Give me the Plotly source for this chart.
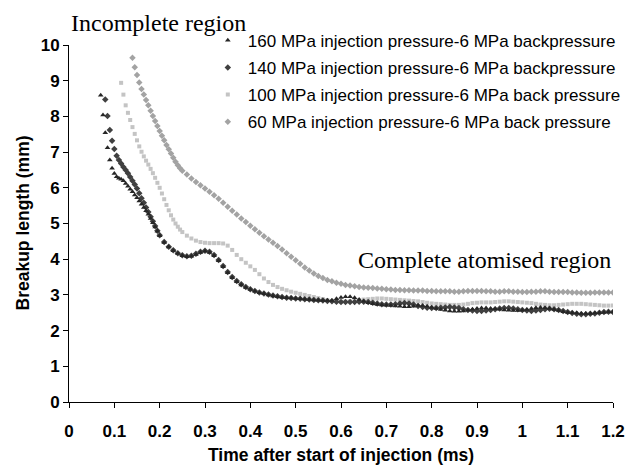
import numpy as np
import plotly.graph_objects as go

# ---- data (time in ms, breakup length in mm) ----
# early parts sampled every 0.005 ms, later parts every 0.01 ms
t160_early = [0.070, 0.075, 0.080, 0.085, 0.090, 0.095, 0.100, 0.105, 0.110, 0.115, 0.120, 0.125, 0.130,
              0.135, 0.140, 0.145, 0.150, 0.155, 0.160, 0.165, 0.170, 0.175, 0.180, 0.185, 0.190, 0.195, 0.200]
b160_early = [8.59, 8.04, 7.54, 7.12, 6.78, 6.55, 6.40, 6.31, 6.27, 6.24, 6.20, 6.12, 6.04,
              5.96, 5.89, 5.80, 5.72, 5.63, 5.54, 5.45, 5.36, 5.26, 5.14, 5.02, 4.90, 4.78, 4.66]
b160_late = [4.47, 4.34, 4.24, 4.16, 4.10, 4.07, 4.08, 4.13, 4.19, 4.22,   # 0.21-0.30
             4.19, 4.10, 3.96, 3.79, 3.62, 3.48, 3.37, 3.28, 3.21, 3.15,   # 0.31-0.40
             3.10, 3.06, 3.03, 3.00, 2.97, 2.95, 2.93, 2.92, 2.91, 2.90,   # 0.41-0.50
             2.89, 2.88, 2.87, 2.86, 2.85, 2.84, 2.84, 2.84, 2.89, 2.93,   # 0.51-0.60
             2.95, 2.95, 2.92, 2.87, 2.82, 2.78, 2.75, 2.73, 2.72, 2.71,   # 0.61-0.70
             2.70, 2.69, 2.68, 2.67, 2.67, 2.68, 2.70, 2.70, 2.68, 2.65,   # 0.71-0.80
             2.62, 2.59, 2.57, 2.55, 2.54, 2.54, 2.55, 2.57, 2.60, 2.62,   # 0.81-0.90
             2.63, 2.63, 2.62, 2.61, 2.60, 2.58, 2.57, 2.56, 2.56, 2.57,   # 0.91-1.00
             2.59, 2.62, 2.64, 2.65, 2.64, 2.62, 2.59, 2.56, 2.53, 2.51,   # 1.01-1.10
             2.50, 2.49, 2.48, 2.48, 2.48, 2.49, 2.50, 2.51, 2.52, 2.52]   # 1.11-1.20

t140_early = [0.080, 0.085, 0.090, 0.095, 0.100, 0.105, 0.110, 0.115, 0.120, 0.125, 0.130, 0.135,
              0.140, 0.145, 0.150, 0.155, 0.160, 0.165, 0.170, 0.175, 0.180, 0.185, 0.190, 0.195, 0.200]
b140_early = [8.47, 8.01, 7.62, 7.32, 7.09, 6.90, 6.78, 6.68, 6.58, 6.50, 6.41, 6.30,
              6.20, 6.09, 5.98, 5.85, 5.71, 5.58, 5.45, 5.32, 5.19, 5.06, 4.93, 4.80, 4.67]
b140_late = [4.48, 4.35, 4.25, 4.17, 4.11, 4.08, 4.10, 4.15, 4.21, 4.24,   # 0.21-0.30
             4.21, 4.12, 3.98, 3.81, 3.64, 3.50, 3.39, 3.30, 3.22, 3.16,   # 0.31-0.40
             3.11, 3.07, 3.04, 3.01, 2.98, 2.96, 2.94, 2.92, 2.91, 2.90,   # 0.41-0.50
             2.89, 2.88, 2.87, 2.86, 2.85, 2.84, 2.83, 2.82, 2.81, 2.80,   # 0.51-0.60
             2.80, 2.80, 2.80, 2.81, 2.81, 2.80, 2.78, 2.76, 2.74, 2.73,   # 0.61-0.70
             2.73, 2.74, 2.76, 2.77, 2.76, 2.73, 2.69, 2.66, 2.64, 2.63,   # 0.71-0.80
             2.63, 2.64, 2.65, 2.66, 2.65, 2.63, 2.60, 2.58, 2.56, 2.55,   # 0.81-0.90
             2.55, 2.56, 2.58, 2.60, 2.62, 2.63, 2.63, 2.62, 2.60, 2.58,   # 0.91-1.00
             2.56, 2.55, 2.56, 2.58, 2.60, 2.61, 2.60, 2.58, 2.55, 2.52,   # 1.01-1.10
             2.49, 2.47, 2.46, 2.46, 2.47, 2.48, 2.50, 2.52, 2.53, 2.52]   # 1.11-1.20

t100_early = [0.115, 0.120, 0.125, 0.130, 0.135, 0.140, 0.145, 0.150, 0.155, 0.160, 0.165, 0.170, 0.175, 0.180,
              0.185, 0.190, 0.195, 0.200, 0.205, 0.210, 0.215, 0.220, 0.225, 0.230, 0.235, 0.240, 0.245]
b100_early = [8.94, 8.61, 8.31, 8.10, 7.90, 7.70, 7.51, 7.33, 7.16, 7.01, 6.88, 6.76, 6.65, 6.53,
              6.41, 6.28, 6.14, 6.00, 5.84, 5.68, 5.52, 5.37, 5.23, 5.11, 5.00, 4.91, 4.83]
b100_late = [4.76, 4.66, 4.58, 4.52, 4.48, 4.46,                           # 0.25-0.30
             4.45, 4.45, 4.45, 4.44, 4.38, 4.26, 4.12, 4.00, 3.90, 3.80,   # 0.31-0.40
             3.70, 3.58, 3.46, 3.36, 3.28, 3.22, 3.17, 3.13, 3.09, 3.06,   # 0.41-0.50
             3.03, 3.00, 2.97, 2.94, 2.91, 2.88, 2.85, 2.83, 2.82, 2.81,   # 0.51-0.60
             2.81, 2.82, 2.83, 2.85, 2.87, 2.88, 2.89, 2.90, 2.90, 2.89,   # 0.61-0.70
             2.88, 2.87, 2.86, 2.85, 2.84, 2.83, 2.82, 2.80, 2.78, 2.76,   # 0.71-0.80
             2.75, 2.74, 2.73, 2.72, 2.72, 2.72, 2.73, 2.75, 2.77, 2.78,   # 0.81-0.90
             2.79, 2.79, 2.79, 2.80, 2.81, 2.82, 2.82, 2.81, 2.80, 2.79,   # 0.91-1.00
             2.78, 2.77, 2.75, 2.73, 2.72, 2.71, 2.71, 2.72, 2.73, 2.74,   # 1.01-1.10
             2.75, 2.75, 2.75, 2.74, 2.73, 2.72, 2.71, 2.70, 2.70, 2.70]   # 1.11-1.20

t60_early = [0.140, 0.145, 0.150, 0.155, 0.160, 0.165, 0.170, 0.175, 0.180, 0.185, 0.190,
             0.195, 0.200, 0.205, 0.210, 0.215, 0.220, 0.225, 0.230, 0.235, 0.240, 0.245]
b60_early = [9.64, 9.38, 9.16, 8.95, 8.77, 8.61, 8.46, 8.31, 8.16, 8.01, 7.87,
             7.73, 7.59, 7.46, 7.33, 7.20, 7.08, 6.96, 6.84, 6.73, 6.63, 6.55]
b60_late = [6.48, 6.37, 6.26, 6.16, 6.07, 5.98,                            # 0.25-0.30
            5.89, 5.79, 5.69, 5.58, 5.47, 5.36, 5.25, 5.14, 5.04, 4.94,    # 0.31-0.40
            4.84, 4.74, 4.64, 4.55, 4.46, 4.37, 4.27, 4.17, 4.07, 3.97,    # 0.41-0.50
            3.87, 3.77, 3.68, 3.60, 3.53, 3.47, 3.42, 3.38, 3.34, 3.31,    # 0.51-0.60
            3.28, 3.26, 3.24, 3.22, 3.21, 3.20, 3.19, 3.18, 3.17, 3.16,    # 0.61-0.70
            3.15, 3.14, 3.14, 3.13, 3.13, 3.12, 3.12, 3.12, 3.11, 3.11,    # 0.71-0.80
            3.10, 3.10, 3.10, 3.10, 3.09, 3.09, 3.10, 3.11, 3.11, 3.11,    # 0.81-0.90
            3.11, 3.10, 3.10, 3.09, 3.09, 3.10, 3.10, 3.09, 3.09, 3.08,    # 0.91-1.00
            3.08, 3.09, 3.09, 3.10, 3.10, 3.09, 3.08, 3.08, 3.08, 3.08,    # 1.01-1.10
            3.07, 3.07, 3.06, 3.06, 3.06, 3.07, 3.07, 3.07, 3.07, 3.07]    # 1.11-1.20

series_names = [
    "160 MPa injection pressure-6 MPa backpressure",
    "140 MPa injection pressure-6 MPa backpressure",
    "100 MPa injection pressure-6 MPa back pressure",
    "60 MPa injection pressure-6 MPa back pressure",
]
x_tick_vals = [0, 0.1, 0.2, 0.3, 0.4, 0.5, 0.6, 0.7, 0.8, 0.9, 1.0, 1.1, 1.2]
x_tick_text = ["0", "0.1", "0.2", "0.3", "0.4", "0.5", "0.6", "0.7", "0.8", "0.9", "1", "1.1", "1.2"]
y_tick_vals = [0, 1, 2, 3, 4, 5, 6, 7, 8, 9, 10]


def late_times(start, n):
    return [round(start + 0.01 * i, 2) for i in range(n)]


t160 = t160_early + late_times(0.21, len(b160_late))
b160 = b160_early + b160_late
t140 = t140_early + late_times(0.21, len(b140_late))
b140 = b140_early + b140_late
t100 = t100_early + late_times(0.25, len(b100_late))
b100 = b100_early + b100_late
t60 = t60_early + late_times(0.25, len(b60_late))
b60 = b60_early + b60_late

styles = [
    dict(symbol="triangle-up", size=5, color="#262626"),
    dict(symbol="diamond", size=5, color="#404040"),
    dict(symbol="square", size=4, color="#c4c4c4"),
    dict(symbol="diamond", size=5, color="#a3a3a3"),
]
xs = [t160, t140, t100, t60]
ys = [b160, b140, b100, b60]

fig = go.Figure()
# draw light series first so dark ones sit on top
for idx in [3, 2, 1, 0]:
    st = styles[idx]
    fig.add_trace(go.Scatter(
        x=xs[idx], y=ys[idx], mode="markers", name=series_names[idx],
        legendgroup="g%d" % idx, legendrank=idx + 1,
        marker=dict(symbol=st["symbol"], size=st["size"], color=st["color"], line=dict(width=0)),
    ))

font_sans = "Liberation Sans, Arial, sans-serif"
font_serif = "Liberation Serif, Times New Roman, serif"

fig.update_layout(
    width=625, height=465,
    margin=dict(l=69, r=12, t=45, b=63, autoexpand=False),
    paper_bgcolor="white", plot_bgcolor="white",
    font=dict(family=font_sans, color="black"),
    showlegend=True,
    legend=dict(
        xref="container", yref="container",
        x=0.3325, y=0.951, xanchor="left", yanchor="top",
        font=dict(size=17, family=font_sans, color="black"),
        bgcolor="rgba(0,0,0,0)", itemsizing="trace",
        tracegroupgap=2, itemwidth=30, traceorder="grouped",
    ),
    xaxis=dict(
        range=[0, 1.2], tickvals=x_tick_vals, ticktext=x_tick_text, automargin=False,
        showgrid=False, zeroline=False, showline=True, linecolor="black", linewidth=1,
        ticks="outside", ticklen=5, tickcolor="black", ticklabeloverflow="allow",
        tickfont=dict(size=17, family=font_sans, color="black", weight="bold"),
        ticklabelstandoff=9,
    ),
    yaxis=dict(
        range=[0, 10], tickvals=y_tick_vals, automargin=False,
        showgrid=False, zeroline=False, showline=True, linecolor="black", linewidth=1,
        ticks="outside", ticklen=5, tickcolor="black",
        tickfont=dict(size=17, family=font_sans, color="black", weight="bold"),
    ),
    annotations=[
        dict(text="<b>Time after start of injection (ms)</b>", xref="paper", yref="paper",
             x=0.5, y=0, yshift=-53, showarrow=False, font=dict(size=17.5, family=font_sans),
             xanchor="center", yanchor="middle"),
        dict(text="<b>Breakup length (mm)</b>", xref="paper", yref="paper",
             x=0, y=0.5, xshift=-47, textangle=-90, showarrow=False,
             font=dict(size=17.5, family=font_sans), xanchor="center", yanchor="middle"),
        dict(text="Incomplete region", xref="paper", yref="paper",
             x=0, y=1, xshift=0, yshift=22, showarrow=False,
             font=dict(size=24, family=font_serif, color="black"), xanchor="left", yanchor="middle"),
        dict(text="Complete atomised region", xref="paper", yref="paper",
             x=1, y=(402 - 260) / 357, showarrow=False,
             font=dict(size=24, family=font_serif, color="black"), xanchor="right", yanchor="middle"),
    ],
)

fig.write_html(
    "out.html",
    config={"displayModeBar": False},
    post_script="document.body.style.margin='0';document.body.style.overflow='hidden';",
)
